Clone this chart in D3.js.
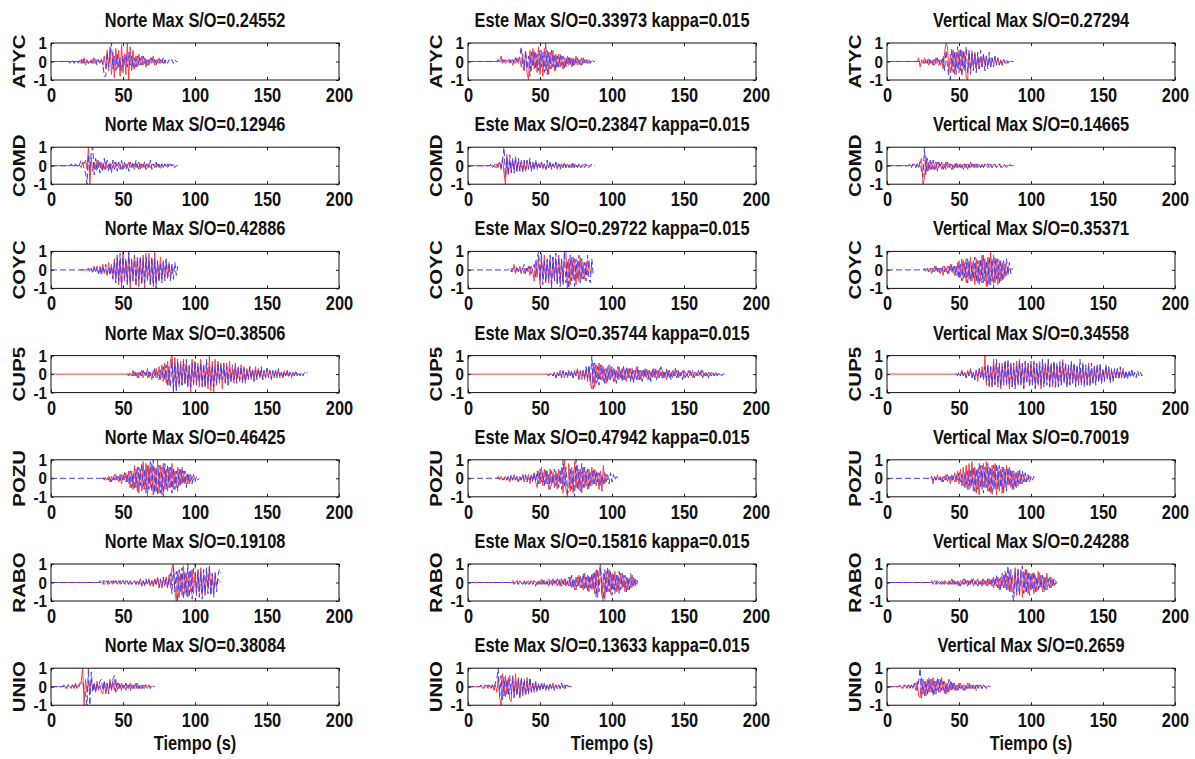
<!DOCTYPE html>
<html>
<head>
<meta charset="utf-8">
<script src="https://cdn.jsdelivr.net/npm/d3@7"></script>
<style>
  body { margin: 0; background: #fff; }
  text { font-family: "Liberation Sans", Arial, sans-serif; font-weight: bold; fill: #111; }
</style>
</head>
<body>
<div id="chart"></div>
<script>
// station / component labels
const stations = ['ATYC', 'COMD', 'COYC', 'CUP5', 'POZU', 'RABO', 'UNIO'];
const components = ['Norte', 'Este', 'Vertical'];
const kappa = '0.015';
const maxSO = [
  ['0.24552', '0.33973', '0.27294'],
  ['0.12946', '0.23847', '0.14665'],
  ['0.42886', '0.29722', '0.35371'],
  ['0.38506', '0.35744', '0.34558'],
  ['0.46425', '0.47942', '0.70019'],
  ['0.19108', '0.15816', '0.24288'],
  ['0.38084', '0.13633', '0.2659']
];
const xTicks = [0, 50, 100, 150, 200];
const yTicks = [-1, 0, 1];

// time (s) of the first sample of each trace, one sample per second after that
const blueOnset = [[10, 20, 25], [13, 15, 15], [25, 28, 25], [53, 55, 48], [35, 22, 30], [33, 30, 30], [8, 8, 8]];
const redOnset = [[20, 22, 21], [20, 18, 18], [28, 30, 28], [55, 58, 50], [38, 20, 31], [35, 33, 32], [10, 10, 10]];
// time where the flat (zero) part of each line begins
const blueFrom = [[0, 0, 0], [0, 0, 0], [0, 0, 0], [53, 55, 48], [0, 0, 0], [0, 0, 0], [0, 0, 0]];
const redFrom = [[0, 0, 0], [0, 0, 0], [20, 30, 25], [0, 0, 0], [35, 20, 30], [0, 0, 0], [0, 0, 0]];

// normalised amplitudes, in tenths
const atycNBlue = [0,1,0,-1,0,1,-1,0,1,-1,1,-1,2,-1,1,0,-1,1,-1,2,-1,1,-2,1,-1,1,-1, -8,-8,5,-3,4,10,-4,3,-5, 4,-3,2,-5,3,-2,4,-3,5,-2,3,-4,2,-3,3,-2,2, -2,3,-1,2,-2,1,-1,2,-1,1,-2,1,-1,1,-1,2,-1,1,-1,1,0,1,-1,1,0,0];
const atycNRed = [0,1,-1,2,-2,1,-1,0,1,-1,2,-1,1,0,-1,1,-2, 3,-4,6,-5,8,-7,5,-9,7,-4,6,-8,9,-6,4,-7,10,-10,8,-5,6,-4,3,-3,4,-2, 3,-2,2,-3,1,-2,2,-1,3,-2,1,-1,2,-1,1,-1,1,0];
const atycEBlue = [0,1,-1,0,1,-1,1,0,-1,1,-1,1,-1,2,-1,1, 3,8,-2,-5,6,-4,3,-8,5,-3,6,-4, 4,-5,6,-3,5,-6,10,-7,5,-4,6,-3,4,-5,3, -3,4,-2,3,-4,2,-2,3,-2,2,-3,2,-1,2,-2,1,-2,2,-1,1,-1,1,-1,1,0,0];
const atycERed = [0,3,-1,1,-1,0,1,-1,1,-2,1,-1,2,-1, 2,-3,4,-4,5,-6,-10,6,-5,7,-4,5, -6,8,-7,6,-8,7,-5,6,-7,5,-4,6,-5,4,-3, 4,-3,3,-4,2,-3,3,-2,2,-3,2,-2,3,-2,1,-2,2,-1,1,-1,1,-1,0,0];
const atycVBlue = [0,-1,1,-1,2,-1,1,-2,1,-1,2,-2,1,-1, 3,-5,6,-3,-8,-10,7,-6,5,-7,8,-6, 7,-8,6,-5,8,-6,5,-7,6,-5,4,-6, 5,-4,6,-3,4,-5,3,-4,5,-3,2,-3,3,-2,2,-2,1,-2,1,-1,1,-1,1,0,0,0];
const atycVRed = [0,2,-3,1,-1,2,-1,1,-2,1,-1,1,-2,2,-1,1,-2,1, -4,5,10,8,-6,4,-5,6,-7,5,-4,6, -5,6,-4,5,-9,-10,6,-5,4,-3,5,-4, 3,-4,2,-3,4,-2,3,-2,2,-3,2,-1,2,-1,1,-2,1,-1,1,0,-1,0,0];

const comdNBlue = [0,1,0,-1,1,0,-1,1,3,2,-2, -4,-10,6,-3,8,10,-5, 4,-3,3,-4,2,-3,4,-2,3,-3,2,-4,3,-2,2,-3,2,-2,3,-2, 2,-2,1,-3,2,-1,2,-2,3,-1,2,-2,1,-1,2,-2,1,-1,3,-2,1,-1,2,-1,1,-2,1,-1,1,-1,1,-1,1,0,1,-1,0,0];
const comdNRed = [0,-1,2,1,3,-2,10,-10,4,-3,2, -2,3,-1,2,-2,1,-2,2,-1,1,-2,1,-1,2,-1,1,-1,1,-2,1, -1,1,-1,2,-1,1,-1,1,-1,1,-2,1,-1,1,-1,1,-1,1,-1,1,0,1,-1,1,-1,0,1,-1,1,0,-1,1,0,0,0,0];
const comdEBlue = [0,1,-1,0,1,-1,1,2,-1, 3,10,-6,4,-5,6,-4, 3,-4,5,-3,4,-3,2,-4,3,-2,3,-2,4,-3,2,-2,3,-2,2,-1, 2,-2,1,-2,3,-1,2,-2,1,-1,2,-1,1,-2,1,-1,2,-1,1,-1,1,-1,2,-1,1,-1,1,-1,0,1,-1,1,0,-1,0,1,0,0];
const comdERed = [0,-1,1,-1,2,-2, 4,-4,-10,6,-5,3,-3, 4,-2,3,-3,2,-2,3,-2,2,-3,2,-1,2,-2,1,-2,2,-1,1,-1, 2,-1,1,-2,1,-1,2,-1,1,-1,1,-2,1,-1,1,-1,1,-1,1,0,-1,1,-1,1,0,-1,1,0,-1,0,1,0,0,0,0,0];
const comdVBlue = [0,1,-1,1,0,-1,1,-1,2, -3,-6,10,-5,4,-3,3, -2,3,-2,2,-3,2,-1,2,-2,1,-2,2,-1,1,-2,1,-1,2,-1,1, -1,1,-2,1,-1,1,-1,2,-1,1,-1,1,-1,1,-1,1,-1,1,0,1,-1,1,-1,0,1,-1,0,1,-1,0,1,0,-1,0,1,0,0,0];
const comdVRed = [0,1,-1,1,-1,2, 4,-10,-7,5,-3,2,-2, 2,-2,1,-2,2,-1,1,-2,1,-1,2,-1,1,-1,1,-2,1,-1,1,-1, 1,-1,1,-1,1,-2,1,-1,1,-1,1,-1,1,0,-1,1,-1,1,0,-1,1,0,-1,1,0,-1,0,1,0,-1,0,0,0,0,0,0];

const coycNBlue = [0,1,-1,1,-2,1,-1,2,-2,1,-3,2,-1,3,-2,1,-3,2, -5,4,-7,8,-6,9,-10,7,-5,6,-8,10,-7,5,-6,8,-9,6,-5,7, -8,6,-7,9,-6,5,-8,7,-9,6,-10,5,-6,4,-7,5,-4,6, -5,4,-6,3,-5,4,-3,2];
const coycNRed = [0,-1,2,-1,1,-2,2,-1,3,-2,1,-3,4,-2,3, -4,6,-5,7,-8,6,-9,10,-6,5,-7,9,-10,6,-5,8,-6,7,-9,6, -7,8,-10,6,-5,9,-8,6,-7,10,-8,5,-6,7,-5,4,-6,5, -4,3,-3,2,0];
const coycEBlue = [0,1,-1,1,0,-1,2,-1,1,-2,1,3,-2,1,-1,2,-2,1, 3,-4,6,10,-6,9,-8,5,-7,6,-5,8,-10,7,-6,9,-8, 7,-9,6,-8,10,-7,5,-10,8,-6,7,-9,6,-5,8,-7,6,-5, 4,-6,8,-5,-7,6,-3];
const coycERed = [1,-1,3,-2,1,-1,2,-1,1,-2,1,-1,2,-3,2,-1, -6,5,-4,7,-8,6,-5,8,-6,5,-7,6,-8,7,-5,6,-7, 8,-6,5,-7,9,10,-10,6,-8,7,-5,6,-8,5,-6,7,-5,4, -5,4,-3,5,-2,1];
const coycVBlue = [0,1,-1,1,-1,0,1,-1,2,-1,1,-2,1,-1,2,-1,1,-2,2,-1,3,-2,2,-3, 4,-5,3,-6,5,-4,6,-7,5,-6,4,-5,7,-6,5,-8,6, -7,8,-6,5,-9,7,-8,6,-10,7,-5,6,-7,5,-6, 5,-4,6,-3,4,-2,1];
const coycVRed = [0,-1,1,-2,1,-1,2,-1,1,-2,1,-3,2,-1,2,-2,3,-1,2,-3,2, -3,5,-4,6,-5,4,-7,6,-5,7,-6,5,-8,6,-7,5,-6, 8,-7,6,-9,7,-8,10,-6,8,-7,6,-8,5,-6,4, -5,3,-3,2,0];

const cup5NBlue = [0,-1,1,0,-1,2,-1,1,-2,1,-1,2,-1,1,-2,2,-1,1,-2,3,-2,1,-3,2,-2, 4,-3,5,-6,4,-7,8,-10,6,-9,8,-7,5,-6,7,-5,8,-6,4,-7,6,-5,7, -6,5,-4,6,-7,5,-6,8,-5,4,-6,5,-7,4,-5,6,-4,5,-3,6,-5,4,-6,3,-4,5,-3,4,-5,3, -3,4,-5,3,-4,2,-3,4,-2,3,-4,2,-3,3,-2,4,-3,2,-2,3,-2,2,-3,2,-1,2,-2,3,-2,1, -2,2,-1,2,-2,1,-2,1,-1,2,-1,1,-1,1,-1,1,0,1];
const cup5NRed = [0,-1,2,-1,1,-2,1,-1,2,-2,1,-1,3,-2,1,-3,2,-1,3,-2,4,-3,5, -4,6,-5,7,-6,8,10,-7,9,-8,6,-5,7,-6,8,-5,6,-7,5,-10,8,-6,7, -5,6,-7,8,-6,5,-7,6,-8,10,-9,7,-10,8,-6,7,-5,6,-8,5,-4,6,-5,7,-4,3,-5,6,-3,4, -4,5,-3,4,-5,3,-2,4,-3,2,-3,4,-2,3,-2,2,-3,2,-2,3,-1,2,-2,1,-2,2,-1,2,-1,1, -2,1,-1,2,-1,1,-1,1,-1,1,0,0];
const cup5EBlue = [0,-1,0,1,-1,1,-2,1,-1,1,-2,2,-1,1,-2,1,-1,2,-2,1,-1,2,-3,2,-1,2, -3,4,-2,5,-4,10,-8,6,-5,4,-6,5,-3,4,-5,3,-4,5,-3,4, -4,3,-5,4,-3,2,-4,5,-3,4,-2,3,-4,3,-5,2,-3,4,-3,2,-4,3,-2,3,-3,2,-4,3,-2,3, -3,2,-2,4,-3,2,-2,3,-2,2,-3,2,-1,3,-2,2,-2,1,-3,2,-2,1,-2,2,-1,2,-2,1,-1,2, -1,2,-2,1,-1,1,-2,1,-1,1,-1,1,-1,0,1,-1,0,0];
const cup5ERed = [0,-1,1,-2,1,-1,2,-1,1,-2,1,-1,2,-1,1,-2,2,-1,3,-2,1,-3,2, -2,3,-4,3,-5,-8,6,-7,5,-4,6,-3,5,-4,3,-5,4,-3,4,-2, 3,-4,2,-3,4,-2,3,-3,2,-4,3,-2,3,-3,2,-2,4,-3,2,-3,2,-2,3,-2,2,-3,1,-2,3,-2, 2,-2,3,-1,2,-2,1,-3,2,-2,1,-2,2,-1,2,-2,1,-1,2,-2,1,-1,2,-1,1,-2,1,-1,1,-1, 1,-1,2,-1,1,-1,1,-1,1,0,-1,1,0,0,0];
const cup5VBlue = [0,-1,1,-1,2,-1,1,-2,1,-1,2,-2,1,-3,2,-1,3,-2,2,-3,4, -4,5,-6,4,-7,5,-6,8,-5,6,-7,4,-6,7,-5,8,-6,5,-7,6,-8,5,-6,7,-5,6,-8,7,-5,6,-7,5, -6,7,-8,6,-5,7,-6,8,-7,5,-6,8,-7,6,-5,7,-8,6,-7,5,-6,8,-5,6,-7,5,-6,7,-5,6, -7,5,-6,8,-5,6,-7,5,-6,4,-7,6,-5,4,-6,5,-4,6,-5,3,-4,5,-3,4,-5,3,-4,3,-2,3, -3,4,-2,3,-3,2,-3,2,-2,3,-2,1,-2,2,-1,1,-1,0];
const cup5VRed = [0,-1,2,-1,1,-2,2,-1,3,-2,1,-3,2,-4,3,-2,4,-3,10, -6,5,-7,4,-6,8,-5,6,-7,5,-8,6,-4,7,-6,5,-8,6,-7,4,-6,7,-5,8,-6,5,-7,6,-4,5,-6,7, -5,6,-7,5,-6,4,-8,7,-5,6,-4,7,-6,5,-7,6,-5,4,-6,7,-5,6,-4,5,-6,4,-5,6,-4,5, -6,4,-5,3,-6,5,-4,3,-5,6,-4,3,-5,4,-3,5,-4,3,-4,2,-3,4,-2,3,-3,2,-3,2,-2,3, -2,2,-1,2,-2,1,-1,1,-1,0,0,0];

const pozuNBlue = [0,1,-1,1,0,-1,1,-2,1,-1,2,-1,1,-2,2,-1,3,-2,2,-3, 4,-5,3,-6,5,-7,6,-4,8,-6,5,-8,7,-6,9,-7,10,-8,6,-9,7, -8,6,-10,8,-6,7,-5,6,-8,5,-6,4,-7,5,-4,6,-3,4,-5,3, -3,2,-3,2,-2,1,-1,0];
const pozuNRed = [0,-1,1,-2,1,-1,2,-1,1,-2,2,-3,2,-1,3,-2,4, -5,4,-6,7,-5,6,-8,5,-7,9,-6,8,-10,7,-5,8,-9,6,-7,10,-8, 7,-9,8,-6,5,-7,6,-5,8,-6,4,-5,6,-4,5,-3,4,-3,2,-3, 2,-2,1,-1,0];
const pozuEBlue = [0,1,-1,0,1,-1,1,-1,2,-1,1,-1,1,-2,1,-1,2,-1,2,-2,1,-1,2,-2,3,-2, 4,-3,5,-2,3,-4,5,-3,2,-6,4,-3,5,-4,3,-5,4, -6,10,-4,6,-8,-7,5,-6,4,-10,10,-6,5,-7,8,-5, 6,-4,5,-6,3,-4,5,-3,4,-2,3,-4,2,-3,3,-2,2,-3,3,-2,2,-1,1,0];
const pozuERed = [0,1,-1,1,0,-1,1,-1,1,-2,1,-1,2,-1,1,-2,1,-1,2,-2,1,-1,2,-3,2,-1,3,-2, -5,4,-3,6,-4,5,-3,4,-6,5,-4,3,-5,4,-6,5,-3, 6,-8,10,-6,-10,8,-7,6,-8,9,-5,7,-6,5,-8,6, -5,4,-6,5,-4,6,-3,5,-4,3,-6,4,-7,7,-3,2,-1];
const pozuVBlue = [0,1,-1,1,-1,1,0,-1,1,-2,1,-1,2,-1,1,-2,1,-2,2,-1,3,-2,2, -4,3,-5,4,-6,5,-4,6,-7,5,-6,8,-5,7,-8,6,-5,8,-7,6,-9,7,-6, 8,-6,7,-5,6,-8,5,-7,6,-4,5,-6,4,-5,3,-4,5,-3,4,-2, 3,-2,2,-2,1,-1,1,0];
const pozuVRed = [1,-3,1,-1,2,-1,1,-2,1,-1,2,-2,1,-3,2,-1,3,-2,4,-3,5,-4, 6,-5,7,-6,8,-5,9,-7,6,-8,5,-9,7,-6,8,-5,9,-7,6,-8,7,-6,8, -9,6,-7,5,-8,6,-5,7,-4,6,-5,4,-6,3,-5,4,-3,2,-3,2, -2,1,-1,1,0];

const raboNBlue = [0,1,0,-1,1,0,-1,1,-1,0,1,-1,1,0,-1,1,-1,1,0,-1,1,-1,1,-1,0,1,-1,1, -1,1,-2,1,-1,2,-1,1,-2,1,-2,2,-1,2,-3,2,-2,3,-1,2,-3,2, 5,-6,8,-5,6,-10,7,-5,8,-9,6,-7,10,-8,7,-9,8,10, -6,7,-8,6,-9,7,-5,8,-6,9,-7,5,-8,6,-5,4,7,5];
const raboNRed = [0,1,-1,0,1,-1,0,1,-1,1,0,-1,1,-1,0,1,-1,1,0,-1,1,-1,0,1,-1,1, -1,2,-1,1,-2,1,-1,2,-2,1,-2,2,-1,3,-2,1,-3,2,-2,3,-2,4, -3,8,10,-4,-10,6,-8,5,-7,9,-6,5,-8,6,-5,7,-6,5, -7,6,-5,8,-6,4,-7,5,-3,8,-6,4,-5,3,-2,2,1,0];
const raboEBlue = [0,1,-1,0,1,-1,1,0,-1,1,-1,1,-1,0,1,-1,1,-2,1,-1,1,-1,2,-1,1,-1,2,-1,1,-2,1,-1,2,-1,2,-2,1,-2,2,-1, 3,-2,4,-3,2,-4,3,-2,4,-3,5,-4,3,-5,4,-3,5,-4, 6,-8,7,-5,8,-6,-10,7,-6,8,-5,6,-7, 5,-6,4,-5,6,-4,5,-3,4,-5,3,-4,5,-3,3,-2,2,0];
const raboERed = [0,1,-1,1,0,-1,1,-1,0,1,-1,1,-1,1,0,-1,1,-1,2,-1,1,-1,1,-2,1,-1,2,-1,1,-2,1,-2,2,-1,2,-2,1, -2,3,-3,2,-4,3,-2,4,-3,2,-4,5,-3,4,-5,3,-4,5, -6,7,-8,6,10,-7,5,-9,6,-5,7,-6,5, -4,6,-5,4,-6,5,-3,4,-5,3,-4,2,-3,4,-2,2,-1,0];
const raboVBlue = [0,1,-1,0,1,-1,1,0,-1,1,-1,1,0,-1,1,-1,2,-1,1,-1,1,-2,1,-1,2,-1,1,-2,1,-1,2,-1,1,-2,1,-1,2,-1,1,-2,2,-1,2, -2,3,-2,4,-3,2,-4,5,-3,6,-4,9, -5,7,-6,-10,6,-5,8,-7,5,9,-6,7,-5,6,-7,5, -4,6,-5,3,-4,5,-3,4,-5,3,-4,2,-3,3,-2,2,-1,0];
const raboVRed = [0,1,-1,1,0,-1,1,-1,1,0,-1,1,-1,2,-1,1,-1,1,-2,1,-1,2,-1,1,-2,1,-1,2,-2,1,-1,2,-1,1,-2,2,-1,1,-2,2,-1, 2,-3,2,-2,3,-4,3,-2,4,-3,5,-4, 6,-5,4,-6,8,-7,5,-6,7,-8,6,-5,7,-6,5,-4, 5,-6,4,-5,6,-3,4,-5,3,-4,5,-2,3,-3,2,-2,1,0];

const unioNBlue = [0,1,-1,0,1,-1,0,1,-1,1,0,-1,1,2, 3,-2,-4,-10,10,-10,8,-3, 2,-3,2,-1,3,4,-2,3,-3,2,-4,3,-2,4,6,-3,2, -1,2,-2,1,-1,2,-1,1,-2,1,-1,1,-1,2,-1,1,-1,1,-1,1,0,1,-1,1,0,0];
const unioNRed = [0,-1,1,0,-1,1,-1,2,-1,1,2,3, 10,-10,4,-3,3,-2,4,-2, 2,-3,3,-2,1,-3,-4,3,-4,2,-3,4,-2,3,-2,4,-2, 2,-1,2,-1,1,-2,1,-1,2,-1,1,-1,2,-1,1,-1,1,-1,1,0,-1,1,0,0];
const unioEBlue = [0,1,-1,0,1,-1,1,0,-1,1,-1,2, 4,10,-5,6,-7,5,-6,4,-5,6, -4,5,-6,3,-5,4,-6,5,-3,4,-5,3,-4,5,-3,2,-3, 2,-3,2,-1,2,-2,1,-2,1,-1,2,-1,1,-2,1,-1,1,-1,2,-1,1,-1,1,0,0,0];
const unioERed = [0,-1,0,1,-1,1,-1,1,-2,1, -3,5,-6,-10,7,-5,6,-4,5,-7, -8,6,-5,7,-4,5,-6,4,-5,3,-4,5,-3,4,-3,2,-2, 3,-2,1,-2,2,-1,2,-1,1,-2,1,-1,2,-1,1,-1,1,-1,1,0,-1,1,0,0];
const unioVBlue = [0,1,-1,0,1,-1,0,1,-1,1,-1,1,2, -2,3,10,-6,4,-5,3,-4,5, -3,4,-5,3,-4,5,-3,4,-2,3,-4,2,-3,4,-2,3,-2, 2,-2,1,-2,2,-1,1,-2,1,-1,2,-1,1,-1,1,-2,1,-1,1,-1,1,0,-1,1,0,0];
const unioVRed = [0,-1,0,1,-1,1,-1,1,-1,2,-2, 3,-5,-6,5,-4,3,-5,4,-3, 4,-3,5,-4,3,-2,4,-3,5,-2,3,-4,2,-3,3,-2,2, -2,1,-2,2,-1,1,-2,1,-1,2,-1,1,-1,1,-1,1,-1,1,0,-1,1,0,0,0];

const blueTraces = [
  [atycNBlue, atycEBlue, atycVBlue],
  [comdNBlue, comdEBlue, comdVBlue],
  [coycNBlue, coycEBlue, coycVBlue],
  [cup5NBlue, cup5EBlue, cup5VBlue],
  [pozuNBlue, pozuEBlue, pozuVBlue],
  [raboNBlue, raboEBlue, raboVBlue],
  [unioNBlue, unioEBlue, unioVBlue]
];
const redTraces = [
  [atycNRed, atycERed, atycVRed],
  [comdNRed, comdERed, comdVRed],
  [coycNRed, coycERed, coycVRed],
  [cup5NRed, cup5ERed, cup5VRed],
  [pozuNRed, pozuERed, pozuVRed],
  [raboNRed, raboERed, raboVRed],
  [unioNRed, unioERed, unioVRed]
];

const W = 1195, H = 759;
const colLeft = [51, 468, 887];
const plotW = 288, plotH = 37;
const rowTop = i => 43 + i * 104.2;
const squeeze = 0.82; // the source figure is horizontally squashed

const svg = d3.select('#chart').append('svg')
  .attr('width', W)
  .attr('height', H)
  .style('background', '#fff');

const x = d3.scaleLinear().domain([0, 200]).range([0, plotW]);
const y = d3.scaleLinear().domain([-1, 1]).range([plotH, 0]);

function toPoints(vals, onset, from) {
  const pts = [];
  if (from < onset) pts.push([from, 0]);
  vals.forEach((v, i) => pts.push([onset + i, v / 10]));
  return pts;
}

const line = d3.line()
  .x(d => x(d[0]))
  .y(d => y(d[1]));

function addText(g, tx, ty, str, size, anchor, rotate) {
  g.append('text')
    .attr('transform', `translate(${tx},${ty}) scale(${squeeze},1)` + (rotate ? ' rotate(-90)' : ''))
    .attr('text-anchor', anchor)
    .style('font-size', size + 'px')
    .text(str);
}

stations.forEach((st, r) => {
  components.forEach((comp, c) => {
    const left = colLeft[c];
    const top = rowTop(r);
    const g = svg.append('g').attr('transform', `translate(${left},${top})`);
    const clipId = `clip-${r}-${c}`;

    g.append('clipPath').attr('id', clipId)
      .append('rect').attr('width', plotW).attr('height', plotH);

    // traces: red solid first, blue dashed on top
    const plot = g.append('g').attr('clip-path', `url(#${clipId})`);
    plot.append('path')
      .datum(toPoints(redTraces[r][c], redOnset[r][c], redFrom[r][c]))
      .attr('fill', 'none')
      .attr('stroke', '#ff3d3d')
      .attr('stroke-width', 1)
      .attr('d', line);
    plot.append('path')
      .datum(toPoints(blueTraces[r][c], blueOnset[r][c], blueFrom[r][c]))
      .attr('fill', 'none')
      .attr('stroke', '#3d3dff')
      .attr('stroke-width', 1)
      .attr('stroke-dasharray', '6,3')
      .attr('d', line);

    // axes
    const xb = g.append('g').attr('transform', `translate(0,${plotH})`)
      .call(d3.axisBottom(x).tickValues(xTicks).tickSize(-3).tickPadding(0));
    xb.selectAll('text')
      .attr('y', 22).attr('dy', null)
      .attr('transform', `scale(${squeeze},1)`)
      .style('font-size', '20px');
    g.append('g').call(d3.axisTop(x).tickValues(xTicks).tickSize(-3).tickFormat(''));
    const yl = g.append('g')
      .call(d3.axisLeft(y).tickValues(yTicks).tickSize(-3).tickPadding(4).tickFormat(d => String(d)));
    yl.selectAll('text')
      .attr('dy', null)
      .attr('x', 0)
      .attr('y', 5.5)
      .attr('transform', 'translate(-4,0) scale(0.95,1)')
      .style('font-size', '16px');
    g.append('g').attr('transform', `translate(${plotW},0)`)
      .call(d3.axisRight(y).tickValues(yTicks).tickSize(-3).tickFormat(''));
    g.selectAll('.domain').remove();
    g.selectAll('.tick line').attr('stroke', '#222');
    g.selectAll('.tick text').attr('font-family', null).attr('font-size', null);

    g.append('rect')
      .attr('width', plotW).attr('height', plotH)
      .attr('fill', 'none').attr('stroke', '#111').attr('stroke-width', 1);

    // title and station label
    let title = `${comp} Max S/O=${maxSO[r][c]}`;
    if (comp === 'Este') title += ` kappa=${kappa}`;
    addText(g, plotW / 2, -16, title, 20, 'middle', false);
    addText(g, -26, plotH / 2, st, 20.5, 'middle', true);

    if (r === stations.length - 1) {
      addText(g, plotW / 2, plotH + 45, 'Tiempo (s)', 20, 'middle', false);
    }
  });
});
</script>
</body>
</html>
